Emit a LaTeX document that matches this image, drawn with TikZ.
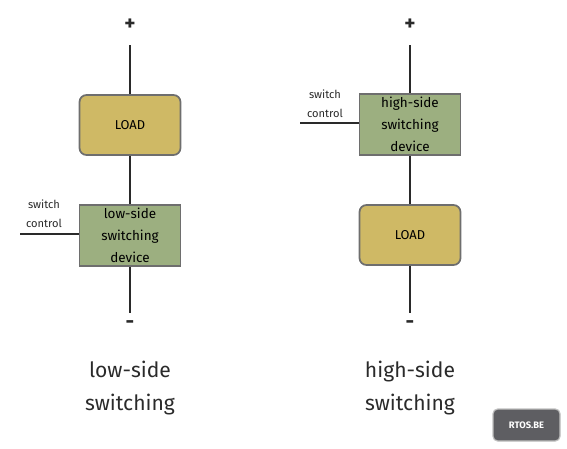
\documentclass[tikz,border=0pt]{standalone}
\usepackage{fontspec}
\setmainfont{Fira Sans}
\usetikzlibrary{positioning}

\definecolor{loadgold}{HTML}{CFB965}
\definecolor{devgreen}{HTML}{9CAF80}
\definecolor{edgegray}{HTML}{6E6E6E}
\definecolor{wiredark}{HTML}{2A2A2A}
\definecolor{badgegray}{HTML}{5E5E62}

\begin{document}
\begin{tikzpicture}[x=0.03cm, y=-0.03cm,
  load/.style={rectangle, rounded corners=6pt, draw=edgegray, line width=1.5pt,
               fill=loadgold, minimum width=3.03cm, minimum height=1.8cm,
               font=\fontsize{11}{13}\selectfont},
  device/.style={rectangle, draw=edgegray, line width=1.5pt, fill=devgreen,
                 minimum width=3.03cm, minimum height=1.83cm, inner sep=0pt,
                 align=center, font=\fontsize{11.5}{19}\selectfont},
  wire/.style={wiredark, line width=1.4pt},
  pole/.style={font=\fontsize{18}{20}\selectfont\bfseries, wiredark},
  ctrl/.style={font=\fontsize{9.5}{16}\selectfont, align=center, wiredark},
  title/.style={font=\fontsize{18}{28}\selectfont, align=center, wiredark},
]
  \useasboundingbox (0,0) rectangle (567,448);

  % Low-side switching
  \node[pole] (lplus) at (130,25) {+};
  \coordinate (ltop) at (130,45);
  \node[load]   (lload) at (130,125)   {LOAD};
  \node[device] (ldev)  at (130,235.5) {low-side\\switching\\device};
  \coordinate (lbot) at (130,313);
  \node[pole] (lminus) at (130,325) {-};
  \draw[wire] (ltop) -- (lload);
  \draw[wire] (lload) -- (ldev);
  \draw[wire] (ldev) -- (lbot);

  \node[ctrl] (lctrltxt) at (44,214) {switch\\control};
  \coordinate (lctrl) at (20,234);
  \draw[wire] (lctrl) -- (lctrl -| ldev.west);

  \node[title] (ltitle) at (130,388) {low-side\\switching};

  % High-side switching
  \node[pole] (hplus) at (410,25) {+};
  \coordinate (htop) at (410,45);
  \node[device] (hdev)  at (410,124.5) {high-side\\switching\\device};
  \node[load]   (hload) at (410,235)   {LOAD};
  \coordinate (hbot) at (410,313);
  \node[pole] (hminus) at (410,325) {-};
  \draw[wire] (htop) -- (hdev);
  \draw[wire] (hdev) -- (hload);
  \draw[wire] (hload) -- (hbot);

  \node[ctrl] (hctrltxt) at (325,104) {switch\\control};
  \coordinate (hctrl) at (300,123);
  \draw[wire] (hctrl) -- (hctrl -| hdev.west);

  \node[title] (htitle) at (410,388) {high-side\\switching};

  % Badge
  \node[rectangle, rounded corners=4pt, fill=badgegray, draw=gray!50,
        line width=1pt, minimum width=2.01cm, minimum height=0.96cm,
        text=white, font=\fontsize{8}{9}\selectfont\bfseries]
        (badge) at (526.5,425) {RTOS.BE};
\end{tikzpicture}
\end{document}
